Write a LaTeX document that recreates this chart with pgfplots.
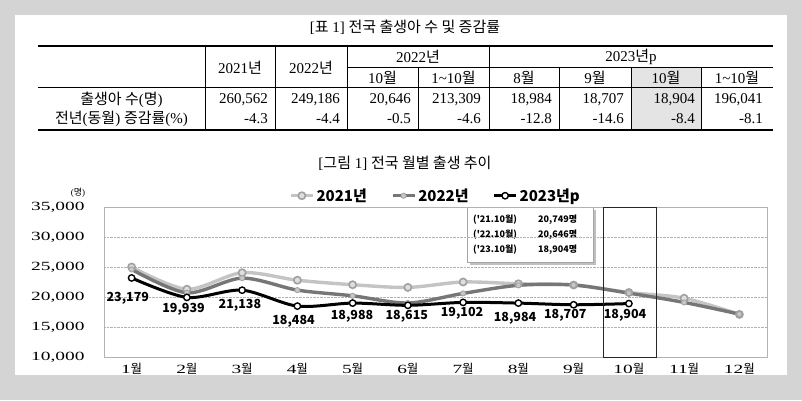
\documentclass[border=0pt]{standalone}
\usepackage{fontspec}
\setmainfont{Liberation Serif}
\newfontfamily\kr{Noto Sans CJK KR}
\newfontfamily\chartserif{Liberation Serif}[FakeStretch=1.55]
\usepackage{pgfplots}
\pgfplotsset{compat=1.18}

\definecolor{bg}{RGB}{212,212,212}
\definecolor{cellgray}{RGB}{228,228,228}
\definecolor{c21}{RGB}{196,196,196}
\definecolor{c21m}{RGB}{160,160,160}
\definecolor{c22}{RGB}{118,118,118}
\definecolor{c22m}{RGB}{200,200,200}

\newcommand\K[1]{{\kr #1}}
\newcommand\tf{\fontsize{15}{15}\selectfont}

\begin{document}
\begin{tikzpicture}
\begin{scope}[x=1pt, y=-1pt]
  % background and panel
  \fill[bg] (0,0) rectangle (802,400);
  \fill[white] (15,15) rectangle (787,375);

  % table title
  \node at (405,27) {\tf [\K{표} 1] \K{전국 출생아 수 및 증감률}};

  % shaded cell and rules
  \fill[cellgray] (631,67) rectangle (701,130);
  \draw[line width=1.8pt] (38,46) -- (773,46);
  \draw[line width=1.8pt] (38,130) -- (773,130);
  \draw[line width=0.9pt] (38,87) -- (773,87);
  \draw[line width=0.7pt] (347,67) -- (773,67);
  \foreach \xx in {205,275,347,489} \draw[line width=0.7pt] (\xx,46) -- (\xx,130);
  \foreach \xx in {418,559,631,701} \draw[line width=0.7pt] (\xx,67) -- (\xx,130);

  % headers
  \node at (240,68) {\tf 2021\K{년}};
  \node at (311,68) {\tf 2022\K{년}};
  \node at (418,57) {\tf 2022\K{년}};
  \node at (631,57) {\tf 2023\K{년}p};
  \node at (382.5,77.5) {\tf 10\K{월}};
  \node at (453.5,77.5) {\tf 1\textasciitilde 10\K{월}};
  \node at (524,77.5) {\tf 8\K{월}};
  \node at (595,77.5) {\tf 9\K{월}};
  \node at (666,77.5) {\tf 10\K{월}};
  \node at (737,77.5) {\tf 1\textasciitilde 10\K{월}};

  % row labels
  \node at (121.5,100) {\tf \K{출생아 수}(\K{명})};
  \node at (121.5,119) {\tf \K{전년}(\K{동월}) \K{증감률}(\%)};

  % data
  \foreach \xx/\a/\b in {268/260{,}562/-4.3, 340/249{,}186/-4.4, 411/20{,}646/-0.5,
      481/213{,}309/-4.6, 552/18{,}984/-12.8, 624/18{,}707/-14.6, 695/18{,}904/-8.4,
      763/196{,}041/-8.1} {
    \node[anchor=east, inner sep=0pt] at (\xx,100) {\tf \a};
    \node[anchor=east, inner sep=0pt] at (\xx,119) {\tf \b};
  }

  % chart title
  \node at (405,163) {\tf [\K{그림} 1] \K{전국 월별 출생 추이}};
  \node at (78,193) {\fontsize{9}{9}\selectfont (\K{명})};

  % annotation box
  \fill[black!25] (470,210) rectangle (596,265);
  \filldraw[fill=white, draw=black!35, line width=0.5pt] (467,207) rectangle (593,262);
  \begin{scope}[every node/.style={anchor=west, inner sep=0pt, font=\kr\bfseries\fontsize{9}{9}\selectfont}]
    \node at (473,220) {('21.10월)};
    \node at (538,220) {20,749명};
    \node at (473,235) {('22.10월)};
    \node at (538,235) {20,646명};
    \node at (473,250) {('23.10월)};
    \node at (538,250) {18,904명};
  \end{scope}
\end{scope}

\begin{axis}[
    at={(104pt,-357pt)}, anchor=south west,
    width=663pt, height=150pt, scale only axis,
    xmin=0.5, xmax=12.5, ymin=10000, ymax=35000,
    xtick={1,...,12},
    xticklabels={1\K{월},2\K{월},3\K{월},4\K{월},5\K{월},6\K{월},7\K{월},8\K{월},9\K{월},10\K{월},11\K{월},12\K{월}},
    ytick={10000,15000,...,35000},
    scaled y ticks=false,
    /pgf/number format/.cd, 1000 sep={,}, assume math mode=true, /pgfplots/.cd,
    major tick length=0pt,
    ymajorgrids, grid style={densely dotted, black!30},
    axis line style={black!30},
    ticklabel style={font=\chartserif\fontsize{12.5}{12.5}\selectfont},
    yticklabel style={xshift=-16pt},
    xticklabel style={yshift=-3pt},
    legend columns=3,
    legend style={draw=none, fill=none, at={(0.5,1.0)}, anchor=south,
      font=\kr\bfseries\fontsize{15}{15}\selectfont,
      /tikz/every even column/.append style={column sep=22pt}},
    legend image code/.code={\draw[mark repeat=2, mark phase=2] plot coordinates {(0pt,0pt) (11pt,0pt) (22pt,0pt)};},
    clip=false,
]
\addplot[c21, line width=3.4pt, smooth, mark=*, mark size=3.6pt,
  mark options={fill=c22m!60, draw=c21m, line width=1.6pt}]
  coordinates {(1,25000) (2,21300) (3,24050) (4,22800) (5,22050) (6,21600)
    (7,22500) (8,22200) (9,22000) (10,20749) (11,19800) (12,17100)};
\addlegendentry{2021년}
\addplot[c22, line width=3.4pt, smooth, mark=*, mark size=2.6pt,
  mark options={fill=c22m, draw=c21m, line width=0.8pt}]
  coordinates {(1,24600) (2,20700) (3,23150) (4,21150) (5,20200) (6,19000)
    (7,20600) (8,21950) (9,22000) (10,20646) (11,19100) (12,17150)};
\addlegendentry{2022년}
\addplot[black, line width=3.0pt, smooth, mark=*, mark size=3.2pt,
  mark options={fill=white, draw=black, line width=1.4pt}]
  coordinates {(1,23179) (2,19939) (3,21138) (4,18484) (5,18988) (6,18615)
    (7,19102) (8,18984) (9,18707) (10,18904)};
\addlegendentry{2023년p}

\draw[black!85, line width=0.6pt] (axis cs:9.53,35000) rectangle (axis cs:10.5,10000);

\begin{scope}[every node/.style={font=\kr\bfseries\fontsize{12.5}{12.5}\selectfont}]
  \node at (axis cs:0.93,19833) {23,179};
  \node at (axis cs:1.94,18000) {19,939};
  \node at (axis cs:2.96,18667) {21,138};
  \node at (axis cs:3.93,16000) {18,484};
  \node at (axis cs:4.99,16833) {18,988};
  \node at (axis cs:5.98,16833) {18,615};
  \node at (axis cs:6.98,17333) {19,102};
  \node at (axis cs:7.94,16500) {18,984};
  \node at (axis cs:8.85,17000) {18,707};
  \node at (axis cs:9.93,17000) {18,904};
\end{scope}
\end{axis}
\end{tikzpicture}
\end{document}
